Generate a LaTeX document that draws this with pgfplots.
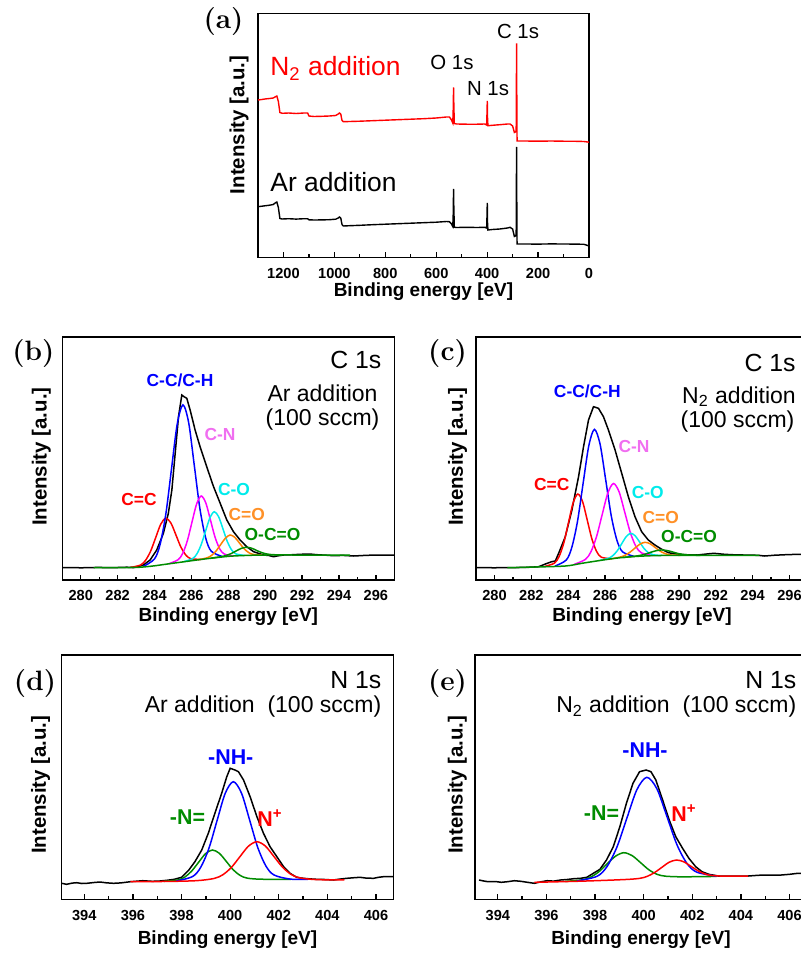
\documentclass[border=0pt]{standalone}
\usepackage{fontspec}
\setsansfont{Liberation Sans}
\usepackage{pgfplots}
\pgfplotsset{compat=1.18}
\definecolor{cred}{RGB}{255,0,0}
\definecolor{cblue}{RGB}{0,0,255}
\definecolor{cmag}{RGB}{255,0,255}
\definecolor{cmaglab}{RGB}{240,110,240}
\definecolor{ccyan}{RGB}{0,235,235}
\definecolor{corange}{RGB}{255,128,0}
\definecolor{corglab}{RGB}{255,145,40}
\definecolor{cgreen}{RGB}{0,140,0}

\newcommand\fbig{\sffamily\fontsize{13.2}{15}\selectfont}
\newcommand\fmid{\sffamily\fontsize{10.2}{12}\selectfont}
\newcommand\fhead{\sffamily\fontsize{12.4}{14}\selectfont}
\newcommand\fsub{\sffamily\fontsize{11.5}{13}\selectfont}
\newcommand\fcomp{\sffamily\bfseries\fontsize{8.7}{10}\selectfont}
\newcommand\fn{\sffamily\bfseries\fontsize{10.7}{12}\selectfont}
\newcommand\flet{\rmfamily\bfseries\fontsize{14}{16}\selectfont}

\pgfplotsset{
  xps/.style={
    scale only axis,
    axis line style={line width=0.8pt},
    ytick=\empty,
    xtick pos=left,
    tick align=inside,
    major tick length=2.6pt,
    minor tick length=1.6pt,
    minor x tick num=1,
    tick style={black,line width=0.65pt},
    tick label style={font=\sffamily\bfseries\fontsize{7.3}{8}\selectfont},
    xticklabel style={yshift=-1.8pt},
    /pgf/number format/assume math mode=true,
    /pgf/number format/1000 sep={},
    xlabel={Binding energy [eV]},
    ylabel={Intensity [a.u.]},
    xlabel style={font=\sffamily\bfseries\fontsize{9.5}{11}\selectfont,anchor=center},
    ylabel style={font=\sffamily\bfseries\fontsize{10.2}{11}\selectfont,anchor=center},
  },
  raw/.style={black,line width=0.75pt},
  comp/.style={line width=0.75pt,smooth},
}

\begin{document}
\begin{tikzpicture}
\useasboundingbox (0,0) rectangle (400.5pt,-476.5pt);

% ---------------- (a) survey
\begin{axis}[xps,
  at={(129pt,-128.75pt)}, anchor=south west,
  width=165.5pt, height=122.1pt,
  xmin=0, xmax=1300, x dir=reverse, ymin=0, ymax=244.2,
  xtick={0,200,...,1200},
  xlabel style={at={(axis description cs:0.5,0)},yshift=-17pt},
  ylabel style={at={(axis description cs:-0.0574,0.543)}},
]
\addplot[cred,line width=0.7pt] coordinates {
(1300,157.5)(1285,158)(1270,158.6)(1255,159)(1240,159.5)(1230,161)(1226,161.5)
(1220,156)(1214,145)(1205,144.2)(1180,144.5)(1150,144)(1120,144.5)(1105,144.5)
(1100,141.5)(1080,141)(1050,141.2)(1020,141.5)(995,142)(985,143.5)(980,144.5)
(975,143.5)(970,137)(965,135.8)(940,136)(900,136.3)(850,136.8)(800,137.3)
(750,137.8)(700,138.3)(650,138.8)(600,139.5)(560,140.5)(548,140.5)(540,137.5)
(535,134.5)(533,150)(532,170)(531,155)(529,134)(520,133.5)(480,133.3)(440,133.3)
(410,133.5)(402,132.5)(400.5,145)(399.5,156.5)(398.5,140)(397,131.8)(380,132.2)
(350,132.8)(320,133.5)(310,133.5)(300,131.5)(293,125)(289,125.5)(286,127)
(285,180)(284.5,214.2)(284,180)(283,140)(282.5,116.5)(250,116.5)(200,116.3)
(150,116.5)(100,116.3)(50,116.2)(20,116)(5,115.5)(0,115.3)};
\addplot[black,line width=0.7pt] coordinates {
(1300,50.8)(1285,51.3)(1270,51.8)(1255,52.3)(1240,53)(1230,55)(1226,55.5)
(1220,50)(1214,39)(1205,38.5)(1180,38.8)(1150,38.4)(1120,38.8)(1105,38.8)
(1100,37.7)(1080,37.5)(1050,37.6)(1020,37.8)(995,38.3)(985,39.5)(980,40.5)
(975,39.5)(970,33)(965,31.5)(940,31.8)(900,32.2)(850,32.8)(800,33.3)(750,33.8)
(700,34.3)(650,34.8)(600,35.3)(560,36)(548,35.8)(540,33.5)(535,31)(533,45)
(532,68.5)(531,52)(529,30.3)(520,30)(480,30.2)(440,30)(410,30.2)(402,29.5)
(400.5,42)(399.5,54.5)(398.5,35)(397,27.5)(380,28)(350,28.5)(320,29.5)(310,30.2)
(300,28.5)(293,21)(289,21.5)(286,23)(285,80)(284.5,110.5)(284,75)(283,30)
(282.5,13.5)(250,13.5)(200,13.4)(150,13.6)(100,13.5)(50,13.4)(20,13.2)(5,12)(0,11.5)};
\end{axis}

% ---------------- (b) C 1s, Ar
\begin{axis}[xps,
  at={(31.15pt,-290pt)}, anchor=south west,
  width=166pt, height=121.65pt,
  xmin=279, xmax=297, ymin=0, ymax=243.3,
  xtick={280,282,...,296},
  xlabel style={at={(axis description cs:0.5,0)},yshift=-18.3pt},
  ylabel style={at={(axis description cs:-0.0633,0.507)}},
]
\addplot[raw] coordinates {
(279.0,12.3)(279.5,12.5)(280.0,12.2)(280.5,12.4)(281.0,12.6)(281.5,12.3)(282.0,12.5)
(282.5,12.8)(282.86,12.4)(283.1,13.3)(283.4,15)(283.76,20)(284.12,30)(284.48,46.7)
(284.75,66.7)(284.94,90)(285.12,126.7)(285.3,163.3)(285.48,185)(285.6,183.3)
(285.75,181.7)(285.93,170)(286.2,150)(286.47,133.3)(286.83,113.3)(287.2,93.3)
(287.56,76.7)(287.92,60)(288.28,48.3)(288.64,40)(289.0,33.3)(289.37,28.3)
(289.91,25)(290.2,24.5)(290.45,23.3)(290.7,24.2)(291.0,25)(291.5,25.3)(291.9,25.7)
(292.4,26)(292.8,25.3)(293.3,24.8)(293.7,24.3)(294.2,24.6)(294.8,24)(295.5,24.7)
(296.2,25)(297,25)};
\addplot[comp,cred] coordinates {
(282.69,12.6)(283.235,14.9)(283.51,19.6)(283.785,28.7)(284.06,42.2)(284.335,55.7)
(284.61,61.8)(284.885,57.1)(285.16,45.1)(285.435,32.7)(285.71,24.7)(285.985,21.2)(286.535,20.7)};
\addplot[comp,cblue] coordinates {
(283.39,13.5)(284.0,21.1)(284.31,36.2)(284.62,66.8)(284.925,111.8)(285.23,155.9)
(285.54,175.1)(285.85,157.5)(286.155,114.8)(286.46,71.4)(286.77,42.3)(287.08,28.7)(287.69,23.4)};
\addplot[comp,cmag] coordinates {
(284.78,16.3)(285.28,20.3)(285.53,26.7)(285.78,39.3)(286.03,57.8)(286.28,75.9)
(286.53,84.0)(286.78,77.1)(287.03,60.2)(287.28,42.9)(287.53,31.3)(287.78,26.0)(288.28,24.1)};
\addplot[comp,ccyan] coordinates {
(285.595,18.4)(286.065,21.4)(286.3,26.2)(286.535,35.6)(286.77,49.1)(287.005,62.3)
(287.24,68.3)(287.475,63.3)(287.71,51.1)(287.945,38.5)(288.18,30.1)(288.415,26.1)(288.885,24.6)};
\addplot[comp,corange] coordinates {
(286.35,20.2)(286.85,22.2)(287.1,24.7)(287.35,29.3)(287.6,35.8)(287.85,42.0)
(288.1,45.0)(288.35,42.7)(288.6,37.1)(288.85,31.4)(289.1,27.5)(289.35,25.6)(289.85,25.0)};
\addplot[comp,cgreen] coordinates {
(287.05,21.8)(287.6,23.3)(287.87,24.5)(288.15,26.4)(288.42,29.0)(288.7,31.6)
(288.97,32.7)(289.25,31.9)(289.52,29.7)(289.8,27.5)(290.07,26.1)(290.35,25.4)(290.9,25.0)};
\addplot[comp,cgreen] coordinates {
(280.7,12.3)(282,12.4)(283,12.6)(283.5,13.2)(284,14.2)(284.7,16)(285.5,18)
(286.5,20.5)(287.3,22.3)(288.1,23.8)(289,24.6)(290,25)(292,25)(294.6,25)};
\end{axis}

% ---------------- (c) C 1s, N2
\begin{axis}[xps,
  at={(238pt,-290pt)}, anchor=south west,
  width=166pt, height=121.65pt,
  xmin=279, xmax=297, ymin=0, ymax=243.3,
  xtick={280,282,...,296},
  xlabel style={at={(axis description cs:0.5,0)},yshift=-18.3pt},
  ylabel style={at={(axis description cs:-0.0557,0.507)}},
]
\addplot[raw] coordinates {
(278.94,12.3)(279.5,12.4)(280,12.2)(280.5,12.5)(281,12.3)(281.5,12.6)(282,12.8)
(282.4,13.3)(282.76,16)(283.1,18.3)(283.3,19)(283.48,26.7)(283.84,43.3)(284.2,70)
(284.56,103.3)(284.83,133.3)(285.1,160)(285.37,173.3)(285.64,171.7)(285.91,163.3)
(286.18,150)(286.54,130)(286.9,106.7)(287.26,83.3)(287.62,63.3)(287.98,48.3)
(288.34,40)(288.7,35)(289.07,30.7)(289.43,27.3)(289.96,25.7)(290.5,25.2)(291,25)
(291.5,26)(291.9,26.7)(292.4,25.8)(292.85,25.3)(293.5,25)(294.3,24.7)(294.65,24)
(295.2,24.8)(295.8,25.3)(296.45,25.7)(297,25.7)};
\addplot[comp,cred] coordinates {
(282.735,13.6)(283.245,16.8)(283.5,23.3)(283.755,36.7)(284.01,57.0)(284.265,77.1)
(284.52,86.0)(284.775,78.6)(285.03,60.0)(285.285,41.0)(285.54,28.5)(285.795,22.8)(286.305,21.3)};
\addplot[comp,cblue] coordinates {
(283.285,14.0)(283.895,20.0)(284.2,33.0)(284.505,58.9)(284.81,97.0)(285.115,134.2)
(285.42,150.6)(285.725,136.0)(286.03,100.4)(286.335,64.0)(286.64,39.8)(286.945,28.2)(287.555,23.7)};
\addplot[comp,cmag] coordinates {
(284.315,15.6)(284.925,20.5)(285.23,28.2)(285.535,43.4)(285.84,65.3)(286.145,86.8)
(286.45,96.5)(286.755,88.3)(287.06,68.1)(287.365,47.6)(287.67,33.6)(287.975,27.1)(288.585,24.5)};
\addplot[comp,ccyan] coordinates {
(285.71,19.6)(286.19,21.8)(286.43,24.6)(286.67,29.5)(286.91,36.6)(287.15,43.5)
(287.39,46.7)(287.63,44.2)(287.87,38.0)(288.11,31.5)(288.35,27.3)(288.59,25.3)(289.07,24.5)};
\addplot[comp,corange] coordinates {
(286.235,20.9)(286.785,22.8)(287.06,24.5)(287.335,27.6)(287.61,31.8)(287.885,35.8)
(288.16,37.7)(288.435,36.3)(288.71,32.6)(288.985,28.8)(289.26,26.4)(289.535,25.1)(290.085,24.7)};
\addplot[comp,cgreen] coordinates {
(286.97,22.5)(287.57,23.7)(287.87,24.5)(288.17,25.8)(288.47,27.7)(288.77,29.3)
(289.07,30.1)(289.37,29.4)(289.67,28.0)(289.97,26.4)(290.27,25.5)(290.57,24.9)(291.17,24.7)};
\addplot[comp,cgreen] coordinates {
(280.7,12.3)(282,12.9)(283.84,14)(284.74,16.7)(285.64,19.3)(286.54,21.7)
(287.44,23.3)(288.52,24.3)(290.14,24.7)(294.37,24.7)};
\end{axis}

% ---------------- (d) N 1s, Ar
\begin{axis}[xps,
  at={(30.85pt,-449.65pt)}, anchor=south west,
  width=165.8pt, height=122.15pt,
  xmin=393.07, xmax=406.71, ymin=0, ymax=244.3,
  xtick={394,396,...,406},
  xlabel style={at={(axis description cs:0.5,0)},yshift=-20.3pt},
  ylabel style={at={(axis description cs:-0.064,0.469)}},
]
\addplot[raw] coordinates {
(393.07,16)(393.27,15)(393.5,16.2)(393.69,16.6)(393.9,15.8)(394.1,16)(394.4,16.8)
(394.65,17.3)(394.9,16.5)(395.2,16)(395.5,16.4)(395.9,17.6)(396.4,18.6)(396.8,18)
(397.1,18.3)(397.4,19)(397.7,20)(398.0,22)(398.3,29.3)(398.55,37.6)(398.83,49.3)
(399.1,66)(399.37,86)(399.65,106)(399.86,122.6)(400.0,131)(400.2,129.3)(400.34,127.6)
(400.55,119.3)(400.82,102.6)(401.1,82.6)(401.37,66)(401.64,52.6)(401.92,42.6)
(402.2,32.6)(402.46,26)(402.74,22)(403.0,21)(403.3,20.4)(403.56,20)(403.9,19.8)
(404.25,19.3)(404.5,20.2)(404.8,21)(405.1,21.6)(405.34,22)(405.6,21.2)(405.9,21)
(406.1,22)(406.3,22.6)(406.71,22.6)};
\addplot[comp,cgreen] coordinates {
(397.275,18.0)(397.845,19.3)(398.13,22.2)(398.415,28.2)(398.7,37.0)(398.985,45.6)
(399.27,49.3)(399.555,46.0)(399.84,37.9)(400.125,29.5)(400.41,23.9)(400.695,21.2)
(401.265,20.1)(402.5,20.0)};
\addplot[comp,cblue] coordinates {
(397.785,18.2)(398.455,22.8)(398.79,32.1)(399.125,50.9)(399.46,78.7)(399.795,105.9)
(400.13,117.6)(400.465,106.2)(400.8,79.3)(401.135,51.8)(401.47,33.3)(401.805,24.3)
(402.475,20.2)(403.2,20.0)};
\addplot[comp,cred] coordinates {
(395.9,17.6)(397.5,17.9)(398.65,18.7)(399.35,20.9)(399.7,24.6)(400.05,31.9)
(400.4,42.6)(400.75,53.1)(401.1,57.6)(401.45,53.2)(401.8,42.8)(402.15,32.2)
(402.5,25.0)(402.85,21.5)(403.55,19.7)(404.7,19.4)};
\end{axis}

% ---------------- (e) N 1s, N2
\begin{axis}[xps,
  at={(237.6pt,-449.65pt)}, anchor=south west,
  width=165.8pt, height=122.15pt,
  xmin=393.07, xmax=406.71, ymin=0, ymax=244.3,
  xtick={394,396,...,406},
  xlabel style={at={(axis description cs:0.5,0)},yshift=-20.3pt},
  ylabel style={at={(axis description cs:-0.054,0.469)}},
]
\addplot[raw] coordinates {
(393.23,19.3)(393.4,18.4)(393.6,17.6)(393.9,17.8)(394.14,17)(394.4,17.6)(394.68,18.6)
(394.95,18)(395.22,17)(395.5,16)(395.8,17.6)(396.03,18.6)(396.3,18.2)(396.58,19.3)
(396.85,19.8)(397.12,20.6)(397.4,21)(397.66,22)(397.93,26)(398.2,30)(398.47,39.3)
(398.75,52.6)(399.02,72.6)(399.29,96)(399.56,116)(399.83,127.6)(400.1,129.3)
(400.3,127.6)(400.5,119.3)(400.78,99.3)(401.05,79.3)(401.32,62.6)(401.6,51)
(401.86,41)(402.14,32.6)(402.4,27.6)(402.68,25)(403.08,23.3)(403.63,23.3)(404.3,23.3)
(404.7,24)(405,24.3)(405.66,24.3)(406,25)(406.34,26)(406.71,26)};
\addplot[comp,cgreen] coordinates {
(396.765,17.9)(397.455,19.4)(397.8,22.0)(398.145,27.3)(398.49,35.3)(398.835,43.0)
(399.18,46.6)(399.525,43.7)(399.87,36.7)(400.215,29.5)(400.56,24.9)(400.905,23.1)
(401.595,22.5)(403,22.9)};
\addplot[comp,cblue] coordinates {
(397.26,18.3)(398.08,23.0)(398.49,32.7)(398.9,52.3)(399.31,81.2)(399.72,109.6)
(400.13,122.0)(400.54,110.7)(400.95,83.3)(401.36,55.1)(401.77,36.2)(402.18,27.2)(403.0,23.1)};
\addplot[comp,cred] coordinates {
(395.5,17.0)(397.5,18.2)(399.25,19.8)(399.85,21.0)(400.15,23.0)(400.45,26.8)
(400.75,32.0)(401.05,37.1)(401.35,39.3)(401.65,37.5)(401.95,32.9)(402.25,28.3)
(402.55,25.1)(402.85,23.7)(403.45,23.1)(404.3,23.3)};
\end{axis}

% ---------------- annotations (pixel grid of the reference)
\begin{scope}[x=0.5pt,y=-0.5pt,every node/.style={inner sep=0pt}]
\node[font=\flet] at (223.5,22) {(a)};
\node[anchor=west,font=\fbig,text=cred] at (270,68.3) {N\textsubscript{2} addition};
\node[anchor=west,font=\fbig] at (270,181.7) {Ar addition};
\node[anchor=west,font=\fmid] at (430,62.5) {O 1s};
\node[anchor=west,font=\fmid] at (466.7,88.3) {N 1s};
\node[anchor=west,font=\fmid] at (496.7,31.7) {C 1s};

\node[font=\flet] at (33.3,353.3) {(b)};
\node[anchor=east,font=\fhead] at (381.7,360) {C 1s};
\node[font=\fsub] at (322.5,393.3) {Ar addition};
\node[font=\fsub] at (322.5,420) {(100 sccm)};
\node[font=\fcomp,text=cblue] at (180,380) {C-C/C-H};
\node[font=\fcomp,text=cmaglab] at (220,435) {C-N};
\node[font=\fcomp,text=cred] at (139,500) {C=C};
\node[font=\fcomp,text=ccyan] at (234,490) {C-O};
\node[font=\fcomp,text=corglab] at (246.7,515) {C=O};
\node[font=\fcomp,text=cgreen] at (272.5,535) {O-C=O};

\node[font=\flet] at (447.5,353.3) {(c)};
\node[anchor=east,font=\fhead] at (796,363.3) {C 1s};
\node[font=\fsub] at (739,396.7) {N\textsubscript{2} addition};
\node[font=\fsub] at (737.5,421.7) {(100 sccm)};
\node[font=\fcomp,text=cblue] at (587.3,391.7) {C-C/C-H};
\node[font=\fcomp,text=cmaglab] at (634,446.7) {C-N};
\node[font=\fcomp,text=cred] at (551.7,485) {C=C};
\node[font=\fcomp,text=ccyan] at (647.7,492.3) {C-O};
\node[font=\fcomp,text=corglab] at (660.8,517.7) {C=O};
\node[font=\fcomp,text=cgreen] at (689,536.7) {O-C=O};

\node[font=\flet] at (35,683.3) {(d)};
\node[anchor=east,font=\fhead] at (381.7,680) {N 1s};
\node[anchor=east,font=\fsub] at (381.7,706.7) {Ar addition\ \ (100 sccm)};
\node[font=\fn,text=cblue] at (230.8,756.7) {-NH-};
\node[font=\fn,text=cgreen] at (187.5,816.7) {-N=};
\node[font=\fn,text=cred] at (270,818.3) {N\textsuperscript{+}};

\node[font=\flet] at (447.5,683.3) {(e)};
\node[anchor=east,font=\fhead] at (796.7,680) {N 1s};
\node[anchor=east,font=\fsub] at (796.7,706.7) {N\textsubscript{2} addition\ \ (100 sccm)};
\node[font=\fn,text=cblue] at (645,750) {-NH-};
\node[font=\fn,text=cgreen] at (601.5,813.3) {-N=};
\node[font=\fn,text=cred] at (684,813.3) {N\textsuperscript{+}};
\end{scope}
\end{tikzpicture}
\end{document}
